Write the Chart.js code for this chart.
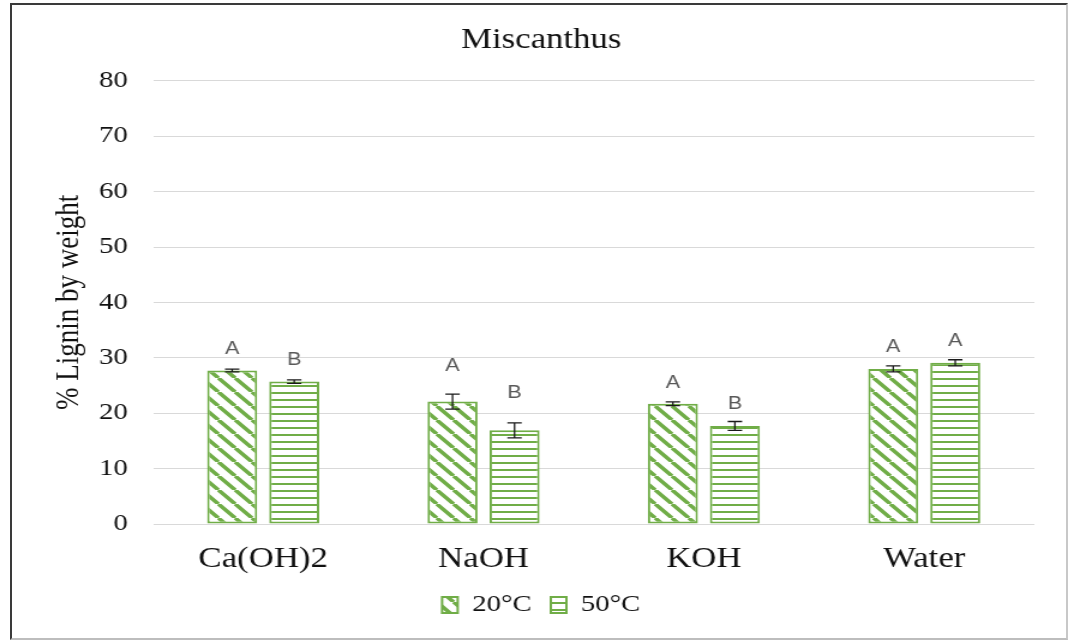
<!DOCTYPE html>
<html>
<head>
<meta charset="utf-8">
<script src="https://cdn.jsdelivr.net/npm/chart.js@4.4.1/dist/chart.umd.min.js"></script>
<style>
  html, body { margin: 0; padding: 0; background: #fff; overflow: hidden; }
  #wrap { position: relative; width: 1068px; height: 640px; }
  /* the chart is laid out at 890px wide and widened to the full frame */
  #c { position: absolute; left: 0; top: 0; transform: scale(1.2, 1); transform-origin: 0 0; }
  #frame {
    position: absolute; left: 10px; top: 3px; width: 1054px; height: 633px;
    border-top: 2px solid #3a3a3a; border-left: 2px solid #3a3a3a;
    border-right: 2px solid #c8c8c8; border-bottom: 2px solid #bdbdbd;
    pointer-events: none;
  }
</style>
</head>
<body>
<div id="wrap">
  <canvas id="c" width="890" height="640"></canvas>
  <div id="frame"></div>
</div>
<script>
// Lignin content (% by weight) of miscanthus after pretreatment
const categories = ['Ca(OH)2', 'NaOH', 'KOH', 'Water'];
const seriesNames = ['20°C', '50°C'];
const lignin20 = [27.7, 22.1, 21.7, 28.0];
const lignin50 = [25.7, 16.9, 17.7, 29.1];
const err20 = [0.25, 1.35, 0.33, 0.55];
const err50 = [0.3, 1.35, 0.8, 0.55];
// significance groups and the value level each letter sits at
const letters20 = ['A', 'A', 'A', 'A'];
const letters50 = ['B', 'B', 'B', 'A'];
const letterAt20 = [31.5, 28.5, 25.5, 32.0];
const letterAt50 = [29.6, 23.7, 21.6, 33.0];
const yMin = 0, yMax = 80, yStep = 10;

const GREEN = '#70AD47';
const serif = '"Liberation Serif", "Times New Roman", serif';
Chart.defaults.font.family = serif;

const canvas = document.getElementById('c');
const ctx = canvas.getContext('2d');

function diagonalPattern(color) {
  const p = 14;
  const t = document.createElement('canvas');
  t.width = p; t.height = p;
  const g = t.getContext('2d');
  g.fillStyle = '#fff'; g.fillRect(0, 0, p, p);
  g.strokeStyle = color; g.lineWidth = 3.5;
  g.beginPath();
  for (let k = -1; k <= 1; k++) { g.moveTo(k * p, 0); g.lineTo(k * p + p, p); }
  g.stroke();
  return ctx.createPattern(t, 'repeat');
}

function horizontalPattern(color) {
  const p = 7;
  const t = document.createElement('canvas');
  t.width = p; t.height = p;
  const g = t.getContext('2d');
  g.fillStyle = '#fff'; g.fillRect(0, 0, p, p);
  g.fillStyle = color; g.fillRect(0, 0, p, 2);
  return ctx.createPattern(t, 'repeat');
}

const extras = [
  { err: err20, letters: letters20, at: letterAt20 },
  { err: err50, letters: letters50, at: letterAt50 }
];

const errorBarsAndLetters = {
  id: 'errorBarsAndLetters',
  afterDatasetsDraw(chart) {
    const c = chart.ctx, y = chart.scales.y;
    chart.data.datasets.forEach((ds, di) => {
      const meta = chart.getDatasetMeta(di);
      const ex = extras[di];
      meta.data.forEach((bar, i) => {
        const v = ds.data[i], e = ex.err[i];
        const x = bar.x;
        const yt = y.getPixelForValue(v + e), yb = y.getPixelForValue(v - e);
        c.save();
        c.strokeStyle = '#1a1a1a'; c.lineWidth = 1.3;
        c.beginPath();
        c.moveTo(x, yt); c.lineTo(x, yb);
        c.moveTo(x - 6, yt); c.lineTo(x + 6, yt);
        c.moveTo(x - 6, yb); c.lineTo(x + 6, yb);
        c.stroke();
        c.fillStyle = '#595959';
        c.font = '18px "Liberation Sans", Arial, sans-serif';
        c.textAlign = 'center'; c.textBaseline = 'middle';
        c.fillText(ex.letters[i], x, y.getPixelForValue(ex.at[i]));
        c.restore();
      });
    });
  }
};

new Chart(canvas, {
  type: 'bar',
  data: {
    labels: categories,
    datasets: [
      {
        label: seriesNames[0], data: lignin20,
        backgroundColor: diagonalPattern(GREEN), borderColor: GREEN, borderWidth: 2,
        borderSkipped: false, categoryPercentage: 0.563, barPercentage: 0.806
      },
      {
        label: seriesNames[1], data: lignin50,
        backgroundColor: horizontalPattern(GREEN), borderColor: GREEN, borderWidth: 2,
        borderSkipped: false, categoryPercentage: 0.563, barPercentage: 0.806
      }
    ]
  },
  options: {
    responsive: false,
    animation: false,
    devicePixelRatio: 1,
    layout: { padding: { left: 12, right: 0, top: 10, bottom: 13 } },
    plugins: {
      title: {
        display: true, text: 'Miscanthus', color: '#111',
        font: { family: serif, size: 29, weight: 'normal' },
        padding: { top: 13, bottom: 23 }
      },
      legend: {
        position: 'bottom',
        labels: {
          color: '#111', boxWidth: 13, boxHeight: 16, padding: 16,
          font: { family: serif, size: 24, weight: 'normal' }
        }
      },
      tooltip: { enabled: false }
    },
    scales: {
      x: {
        grid: { display: false },
        border: { display: false },
        ticks: { color: '#111', padding: 10, font: { family: serif, size: 29 } },
        afterFit(scale) { scale.height = 53; }
      },
      y: {
        min: yMin, max: yMax,
        grid: { color: '#d9d9d9', lineWidth: 1, drawTicks: false },
        border: { display: false },
        ticks: { stepSize: yStep, color: '#111', padding: 21, font: { family: serif, size: 24 } },
        title: {
          display: true, text: '% Lignin by weight', color: '#111',
          font: { family: serif, size: 27 }, padding: { top: 30, bottom: 0 }
        },
        afterFit(scale) { scale.width = 115.5; }
      },
      // empty right-hand margin so the plot ends where the gridlines stop
      yRight: {
        position: 'right',
        display: true,
        grid: { display: false, drawTicks: false },
        border: { display: false },
        ticks: { display: false },
        afterFit(scale) { scale.width = 28; }
      }
    }
  },
  plugins: [errorBarsAndLetters]
});
</script>
</body>
</html>
